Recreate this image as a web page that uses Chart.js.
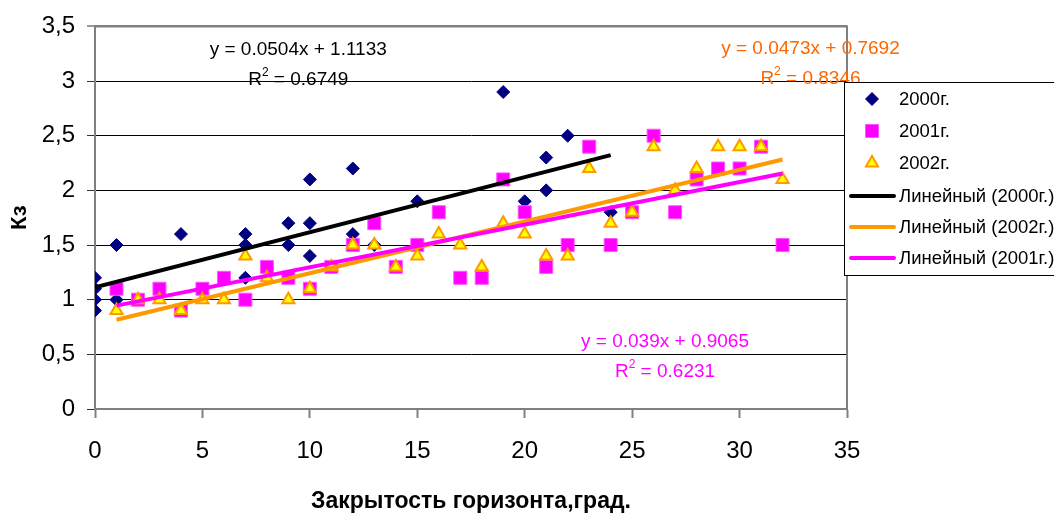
<!DOCTYPE html>
<html><head><meta charset="utf-8">
<script src="https://cdn.jsdelivr.net/npm/chart.js@4.4.1/dist/chart.umd.min.js"></script>
<style>html,body{margin:0;padding:0;background:#fff;overflow:hidden}#wrap{width:1054px;height:515px;position:relative}</style>
</head><body><div id="wrap"><canvas id="c" width="1054" height="515"></canvas></div>
<script>
// ---- data ----
const x2000 = [0, 0, 0, 0, 1, 1, 4, 7, 7, 7, 9, 9, 10, 10, 10, 12, 12, 13, 15, 19, 20, 21, 21, 22, 24];
const y2000 = [0.9, 1.0, 1.1, 1.2, 1.5, 1.0, 1.6, 1.6, 1.5, 1.2, 1.7, 1.5, 2.1, 1.7, 1.4, 2.2, 1.6, 1.5, 1.9, 2.9, 1.9, 2.3, 2.0, 2.5, 1.8];
const x2001 = [1, 2, 3, 4, 5, 6, 7, 8, 9, 10, 11, 12, 13, 14, 15, 16, 17, 18, 19, 20, 21, 22, 23, 24, 25, 26, 27, 28, 29, 30, 31, 32];
const y2001 = [1.1, 1.0, 1.1, 0.9, 1.1, 1.2, 1.0, 1.3, 1.2, 1.1, 1.3, 1.5, 1.7, 1.3, 1.5, 1.8, 1.2, 1.2, 2.1, 1.8, 1.3, 1.5, 2.4, 1.5, 1.8, 2.5, 1.8, 2.1, 2.2, 2.2, 2.4, 1.5];
const x2002 = [1, 2, 3, 4, 5, 6, 7, 8, 9, 10, 11, 12, 13, 14, 15, 16, 17, 18, 19, 20, 21, 22, 23, 24, 25, 26, 27, 28, 29, 30, 31, 32];
const y2002 = [0.9, 1.0, 1.0, 0.9, 1.0, 1.0, 1.4, 1.2, 1.0, 1.1, 1.3, 1.5, 1.5, 1.3, 1.4, 1.6, 1.5, 1.3, 1.7, 1.6, 1.4, 1.4, 2.2, 1.7, 1.8, 2.4, 2.0, 2.2, 2.4, 2.4, 2.4, 2.1];
const seriesNames = ['2000г.', '2001г.', '2002г.'];
// trend lines in legend order: 2000, 2002, 2001
const trendNames = ['Линейный (2000г.)', 'Линейный (2002г.)', 'Линейный (2001г.)'];
const trendSlopes = [0.0504, 0.0473, 0.039];
const trendIntercepts = [1.1133, 0.7692, 0.9065];
const trendR2 = ['0.6749', '0.8346', '0.6231'];
const trendFrom = [0, 1, 1];
const trendTo = [24, 32, 32];
const xTicks = [0, 5, 10, 15, 20, 25, 30, 35];
const yTicks = [0, 0.5, 1, 1.5, 2, 2.5, 3, 3.5];
const xTitle = 'Закрытость горизонта,град.';
const yTitle = 'Кз';

// ---- styles ----
const FONT = "'Liberation Sans', Arial, sans-serif";
const pts = (xs, ys) => xs.map((x, i) => ({x: x, y: ys[i]}));
const trendColors = ['#000000', '#FF9900', '#FF00FF'];
const eqColors = ['#000000', '#FF6600', '#FF00FF'];
// label anchors (data coords) for the equations
const eqAnchor = [{x: 9.46, y: 3.288}, {x: 33.3, y: 3.297}, {x: 26.53, y: 0.619}];

const trendData = trendSlopes.map((m, i) => [
  {x: trendFrom[i], y: m * trendFrom[i] + trendIntercepts[i]},
  {x: trendTo[i], y: m * trendTo[i] + trendIntercepts[i]}
]);

const datasets = [
  {label: seriesNames[0], type: 'scatter', data: pts(x2000, y2000), pointStyle: 'rectRot', pointRadius: 6.5,
   backgroundColor: '#000080', borderColor: '#000080', borderWidth: 1, order: 5},
  {label: seriesNames[1], type: 'scatter', data: pts(x2001, y2001), pointStyle: 'rect', pointRadius: 9.2,
   backgroundColor: '#FF00FF', borderColor: '#FF55FF', borderWidth: 1, order: 4},
  {label: seriesNames[2], type: 'scatter', data: pts(x2002, y2002), pointStyle: 'triangle', pointRadius: 7,
   backgroundColor: '#FFFF00', borderColor: '#FF9900', borderWidth: 2, order: 3},
];
trendNames.forEach((n, i) => datasets.push({
  label: n, type: 'line', data: trendData[i], borderColor: trendColors[i], borderWidth: 4,
  pointRadius: 0, fill: false, tension: 0, order: 2 - i, borderCapStyle: 'butt'
}));

function drawMarker(ctx, style, x, y, r, bg, bc, bw) {
  ctx.save();
  ctx.fillStyle = bg; ctx.strokeStyle = bc; ctx.lineWidth = bw;
  ctx.beginPath();
  if (style === 'rectRot') {
    ctx.moveTo(x, y - r); ctx.lineTo(x + r, y); ctx.lineTo(x, y + r); ctx.lineTo(x - r, y); ctx.closePath();
  } else if (style === 'rect') {
    const s = Math.SQRT1_2 * r; ctx.rect(x - s, y - s, 2 * s, 2 * s);
  } else if (style === 'triangle') {
    for (let k = 0; k < 3; k++) {
      const a = k * 2 * Math.PI / 3;
      const px = x + Math.sin(a) * r, py = y - Math.cos(a) * r;
      k ? ctx.lineTo(px, py) : ctx.moveTo(px, py);
    }
    ctx.closePath();
  }
  ctx.fill(); if (bw) ctx.stroke();
  ctx.restore();
}

const decor = {
  id: 'decor',
  beforeDatasetsDraw(chart) {
    const {ctx, chartArea: a} = chart;
    ctx.save();
    ctx.strokeStyle = '#808080'; ctx.lineWidth = 2;
    ctx.beginPath();
    ctx.moveTo(a.left, a.top); ctx.lineTo(a.right, a.top); ctx.lineTo(a.right, a.bottom);
    ctx.stroke();
    ctx.restore();
  },
  afterDatasetsDraw(chart) {
    const {ctx, scales} = chart;
    const fs = 19;
    ctx.save();
    ctx.textBaseline = 'middle';
    trendSlopes.forEach((m, i) => {
      const cx = scales.x.getPixelForValue(eqAnchor[i].x);
      const cy = scales.y.getPixelForValue(eqAnchor[i].y);
      ctx.fillStyle = eqColors[i];
      ctx.font = fs + 'px ' + FONT;
      ctx.textAlign = 'center';
      ctx.fillText('y = ' + m + 'x + ' + trendIntercepts[i], cx, cy);
      // R^2 line
      const supF = Math.round(fs * 0.62) + 'px ' + FONT;
      ctx.textAlign = 'left';
      const wR = ctx.measureText('R').width;
      const rest = ' = ' + trendR2[i];
      const wRest = ctx.measureText(rest).width;
      ctx.font = supF; const w2 = ctx.measureText('2').width;
      const total = wR + w2 + wRest;
      const sx = cx - total / 2, sy = cy + 30;
      ctx.font = fs + 'px ' + FONT;
      ctx.fillText('R', sx, sy);
      ctx.font = supF; ctx.fillText('2', sx + wR, sy - fs * 0.36);
      ctx.font = fs + 'px ' + FONT; ctx.fillText(rest, sx + wR + w2, sy);
    });
    ctx.restore();
  },
  afterDraw(chart) {
    const ctx = chart.ctx;
    const bx = 844, by = 82, bw = 230, bh = 193;
    ctx.save();
    ctx.fillStyle = '#fff'; ctx.fillRect(bx, by, bw, bh);
    ctx.strokeStyle = '#000'; ctx.lineWidth = 1;
    ctx.strokeRect(bx + 0.5, by + 0.5, bw, bh);
    const rowY = [99, 131, 163, 196, 227, 258];
    ctx.font = '18.5px ' + FONT; ctx.textBaseline = 'middle'; ctx.textAlign = 'left'; ctx.fillStyle = '#000';
    chart.data.datasets.forEach((ds, i) => {
      const y = rowY[i];
      if (ds.type === 'scatter') {
        drawMarker(ctx, ds.pointStyle, 872, y, ds.pointRadius, ds.backgroundColor, ds.borderColor, ds.borderWidth);
      } else {
        ctx.save(); ctx.strokeStyle = ds.borderColor; ctx.lineWidth = 4; ctx.lineCap = 'round';
        ctx.beginPath(); ctx.moveTo(851, y); ctx.lineTo(894, y); ctx.stroke(); ctx.restore();
      }
      ctx.fillStyle = '#000';
      ctx.fillText(ds.label, 899, y + 1);
    });
    ctx.restore();
  }
};

new Chart(document.getElementById('c'), {
  type: 'scatter',
  data: {datasets: datasets},
  plugins: [decor],
  options: {
    responsive: false, animation: false, events: [],
    layout: {padding: {left: 0, right: 1054 - 847, top: 25, bottom: 0}},
    plugins: {legend: {display: false}, tooltip: {enabled: false}},
    scales: {
      x: {
        type: 'linear', min: xTicks[0], max: xTicks[xTicks.length - 1],
        afterBuildTicks: s => { s.ticks = xTicks.map(v => ({value: v})); },
        afterFit: s => { s.height = 515 - 409; },
        grid: {drawOnChartArea: false, drawTicks: true, tickLength: 9, tickColor: '#808080', tickWidth: 2},
        border: {color: '#808080', width: 2},
        ticks: {color: '#000', font: {family: FONT, size: 24}, padding: 19, maxRotation: 0},
        title: {display: true, text: xTitle, color: '#000', font: {family: FONT, size: 23, weight: 'bold'}, padding: {top: 0, bottom: 0}}
      },
      y: {
        type: 'linear', min: yTicks[0], max: yTicks[yTicks.length - 1],
        afterBuildTicks: s => { s.ticks = yTicks.map(v => ({value: v})); },
        afterFit: s => { s.width = 95; },
        grid: {color: c => (c.tick && c.tick.value === 3.5) ? '#808080' : '#000000',
               lineWidth: c => (c.tick && c.tick.value === 3.5) ? 2 : 1,
               drawTicks: true, tickLength: 8, tickColor: '#333', tickWidth: 1},
        border: {color: '#808080', width: 2},
        ticks: {color: '#000', font: {family: FONT, size: 24}, padding: 12,
                callback: v => String(v).replace('.', ',')},
        title: {display: true, text: yTitle, color: '#000', font: {family: FONT, size: 22, weight: 'bold'}, padding: {top: 7, bottom: 0}}
      }
    }
  }
});
</script></body></html>
